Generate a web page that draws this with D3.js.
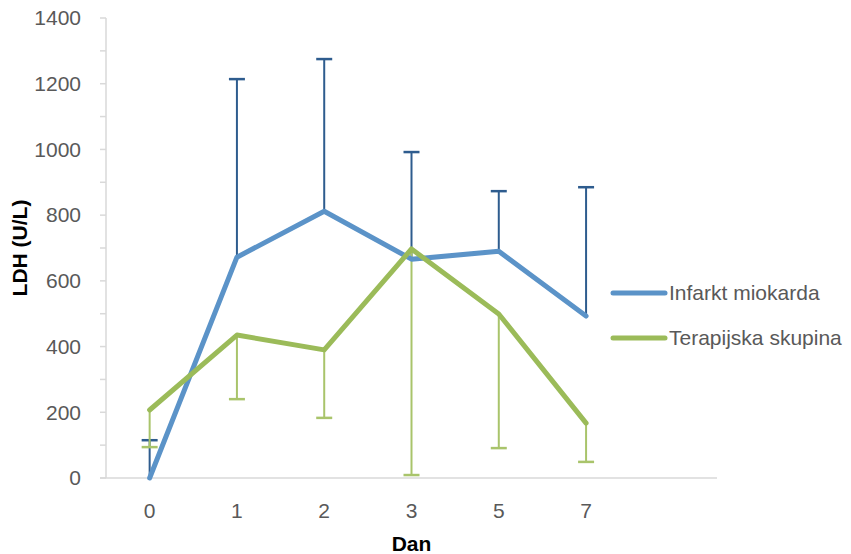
<!DOCTYPE html>
<html><head><meta charset="utf-8">
<script src="https://cdn.jsdelivr.net/npm/d3@7"></script>
<style>body{margin:0;background:#fff}</style>
</head><body>
<svg id="c" width="851" height="554"></svg>
<script>
const days = ["0","1","2","3","5","7"];
const bandSlots = ["0","1","2","3","5","7",""];
const infarkt = [0, 672, 812, 666, 690, 493];
const infarktErrUp = [115, 1214, 1275, 992, 873, 885];
const terapija = [207, 435, 390, 697, 499, 167];
const terapijaErrDown = [94, 240, 183, 9, 91, 49];
const yTicks = [0, 200, 400, 600, 800, 1000, 1200, 1400];
const seriesNames = ["Infarkt miokarda", "Terapijska skupina"];

(function(){
const svg = d3.select("#c");
const pL = 106, pR = 717, pT = 18, pB = 478;
const x = d3.scaleBand().domain(bandSlots).range([pL, pR]);
const y = d3.scaleLinear().domain([0, 1400]).range([pB, pT]);
const cx = d => x(d) + x.bandwidth() / 2;
const font = "'Liberation Sans', Arial, sans-serif";
const grey = "#595959", axisCol = "#d9d9d9";

svg.append("g").selectAll("line").data(d3.range(0, 1401, 100)).join("line")
  .attr("x1", pL - 6).attr("x2", pL).attr("y1", d => y(d)).attr("y2", d => y(d))
  .attr("stroke", axisCol).attr("stroke-width", 1.5);
svg.append("line").attr("x1", pL).attr("x2", pL).attr("y1", pT).attr("y2", pB)
  .attr("stroke", axisCol).attr("stroke-width", 1.5);
svg.append("line").attr("x1", pL - 6).attr("x2", pR).attr("y1", pB).attr("y2", pB)
  .attr("stroke", axisCol).attr("stroke-width", 1.5);

svg.append("g").selectAll("text").data(yTicks).join("text")
  .attr("x", 81).attr("y", d => y(d)).attr("dy", "0.35em").attr("text-anchor", "end")
  .attr("font-family", font).attr("font-size", 21).attr("fill", grey).text(d => d);
svg.append("g").selectAll("text").data(days).join("text")
  .attr("x", d => cx(d)).attr("y", 511).attr("dy", "0.35em").attr("text-anchor", "middle")
  .attr("font-family", font).attr("font-size", 21).attr("fill", grey).text(d => d);

svg.append("text").attr("transform", `translate(20,${(pT+pB)/2}) rotate(-90)`)
  .attr("text-anchor", "middle").attr("dy", "0.35em").attr("font-family", font)
  .attr("font-size", 21).attr("font-weight", "bold").attr("fill", "#000").text("LDH (U/L)");
svg.append("text").attr("x", (pL + pR) / 2).attr("y", 544)
  .attr("text-anchor", "middle").attr("dy", "0.35em").attr("font-family", font)
  .attr("font-size", 21).attr("font-weight", "bold").attr("fill", "#000").text("Dan");

const blue = "#5b93c8", blueErr = "#2e5c8e", green = "#9bbb59", greenErr = "#a9c46b";
const capW = 8;

const be = svg.append("g");
days.forEach((d, i) => {
  be.append("line").attr("x1", cx(d)).attr("x2", cx(d)).attr("y1", y(infarkt[i])).attr("y2", y(infarktErrUp[i]))
    .attr("stroke", blueErr).attr("stroke-width", 2);
  be.append("line").attr("x1", cx(d) - capW).attr("x2", cx(d) + capW).attr("y1", y(infarktErrUp[i])).attr("y2", y(infarktErrUp[i]))
    .attr("stroke", blueErr).attr("stroke-width", 2.5);
});
const ge = svg.append("g");
days.forEach((d, i) => {
  ge.append("line").attr("x1", cx(d)).attr("x2", cx(d)).attr("y1", y(terapija[i])).attr("y2", y(terapijaErrDown[i]))
    .attr("stroke", greenErr).attr("stroke-width", 2);
  ge.append("line").attr("x1", cx(d) - capW).attr("x2", cx(d) + capW).attr("y1", y(terapijaErrDown[i])).attr("y2", y(terapijaErrDown[i]))
    .attr("stroke", greenErr).attr("stroke-width", 2.5);
});

const line = d3.line().x((v, i) => cx(days[i])).y(v => y(v));
svg.append("path").attr("d", line(infarkt)).attr("fill", "none").attr("stroke", blue)
  .attr("stroke-width", 5).attr("stroke-linejoin", "round").attr("stroke-linecap", "round");
svg.append("path").attr("d", line(terapija)).attr("fill", "none").attr("stroke", green)
  .attr("stroke-width", 5).attr("stroke-linejoin", "round").attr("stroke-linecap", "round");

const lg = svg.append("g");
[[blue, 293], [green, 338]].forEach(([c, ly], i) => {
  lg.append("line").attr("x1", 613).attr("x2", 665).attr("y1", ly).attr("y2", ly)
    .attr("stroke", c).attr("stroke-width", 5).attr("stroke-linecap", "round");
  lg.append("text").attr("x", 669).attr("y", ly).attr("dy", "0.35em")
    .attr("font-family", font).attr("font-size", 21).attr("fill", grey).text(seriesNames[i]);
});
})();
</script>
</body></html>
